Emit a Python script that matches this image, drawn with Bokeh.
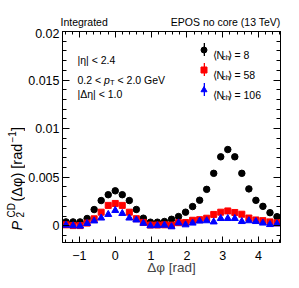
from bokeh.plotting import figure
from bokeh.layouts import column, row
from bokeh.models import (FixedTicker, Label, Legend, LegendItem, LinearAxis,
                          CustomJSTickFormatter, Range1d)
from bokeh.core.properties import value
from bokeh.embed import file_html
from bokeh.resources import INLINE
import numpy as np

# ---------------- data ----------------
dphi = [-1.374, -1.178, -0.982, -0.785, -0.589, -0.393, -0.196, 0.0, 0.196, 0.393,
        0.589, 0.785, 0.982, 1.178, 1.374, 1.571, 1.767, 1.963, 2.160, 2.356,
        2.553, 2.749, 2.945, 3.142, 3.338, 3.534, 3.731, 3.927, 4.123, 4.320, 4.516]

p2_n8 = [0.00040, 0.00040, 0.00040, 0.00075, 0.00167, 0.00260, 0.00320, 0.00360, 0.00320, 0.00260,
         0.00168, 0.00078, 0.00037, 0.00037, 0.00044, 0.00067, 0.00095, 0.00140, 0.00198, 0.00263,
         0.00375, 0.00540, 0.00710, 0.00785, 0.00710, 0.00540, 0.00380, 0.00262, 0.00200, 0.00135, 0.00094]

p2_n58 = [0.00010, 0.00002, 0.00002, 0.00028, 0.00072, 0.00140, 0.00210, 0.00230, 0.00210, 0.00140,
          0.00073, 0.00035, 0.00008, 0.00008, 0.00010, 0.00007, 0.00032, 0.00034, 0.00057, 0.00063,
          0.00078, 0.00117, 0.00140, 0.00153, 0.00137, 0.00119, 0.00080, 0.00060, 0.00053, 0.00040, 0.00031]

p2_n106 = [0.00007, 0.00000, -0.00003, 0.00024, 0.00050, 0.00080, 0.00117, 0.00158, 0.00127, 0.00080,
           0.00060, 0.00026, 0.00000, 0.00002, 0.00007, -0.00010, 0.00030, 0.00010, 0.00028, 0.00049,
           0.00052, 0.00040, 0.00075, 0.00075, 0.00075, 0.00044, 0.00052, 0.00044, 0.00028, 0.00013, 0.00020]

err_n8 = [0.00012] * 31
err_n58 = [0.00009] * 31
err_n106 = [0.00009] * 31

series_labels = ["8", "58", "106"]

x_tick_vals = [-1, 0, 1, 2, 3, 4]
x_tick_labels = ["\u22121", "0", "1", "2", "3", "4"]
y_tick_vals = [0, 0.005, 0.01, 0.015, 0.02]
y_tick_labels = ["0", "0.005", "0.01", "0.015", "0.02"]

FONT = "Liberation Sans"
W_LEFT = 25
H_HEAD = 28
B_TOP = 31 - H_HEAD
B_BOTTOM = 46


def helper_fig(w, h, top=0, bottom=0):
    f = figure(width=w, height=h, output_backend="svg", toolbar_location=None,
               x_range=Range1d(0, w), y_range=Range1d(0, h - top - bottom),
               min_border_left=0, min_border_right=0, min_border_top=top,
               min_border_bottom=bottom,
               x_axis_location=None, y_axis_location=None, title=None,
               background_fill_color="white", border_fill_color="white")
    f.outline_line_color = None
    f.xgrid.visible = False
    f.ygrid.visible = False
    return f


def lab(fig, x, y, text, size="10.5px", style="normal", align="left", angle=0.0):
    fig.add_layout(Label(x=x, y=y, x_units="screen", y_units="screen", text=text,
                         text_font=FONT, text_font_size=size, text_font_style=style,
                         text_align=align, text_baseline="alphabetic", angle=angle,
                         text_color="black"))


# ---------------- header ----------------
head = helper_fig(299, H_HEAD)
lab(head, 60, 7, "Integrated")
lab(head, 280, 7, "EPOS no core (13 TeV)", align="right")

# ---------------- y title (rotated) ----------------
side = helper_fig(W_LEFT, 288 - H_HEAD, top=B_TOP, bottom=B_BOTTOM)
A = np.pi / 2
lab(side, 16.5, 12, "P", size="14.5px", style="italic", angle=A)
lab(side, 11, 25, "CD", size="10px", angle=A)
lab(side, 19, 25, "2", size="10px", angle=A)
lab(side, 16.5, 41, "(\u0394\u03c6) [rad", size="14.5px", angle=A)
lab(side, 11, 100, "\u22121", size="10px", angle=A)
lab(side, 16.5, 111.5, "]", size="14.5px", angle=A)

# ---------------- main figure ----------------
p = figure(width=299 - W_LEFT, height=288 - H_HEAD, output_backend="svg", toolbar_location=None,
           x_range=Range1d(-1.473, 4.614), y_range=Range1d(-0.00172, 0.02), title=None,
           min_border_left=60 - W_LEFT, min_border_right=19, min_border_top=B_TOP,
           min_border_bottom=B_BOTTOM,
           background_fill_color="white", border_fill_color="white")
p.xgrid.visible = False
p.ygrid.visible = False
p.outline_line_color = "black"
p.outline_line_width = 1

x_minor = [round(v, 2) for v in np.arange(-1.4, 4.61, 0.2)]
y_minor = [round(v, 4) for v in np.arange(-0.001, 0.0201, 0.001)]
xt = FixedTicker(ticks=x_tick_vals, minor_ticks=x_minor)
yt = FixedTicker(ticks=y_tick_vals, minor_ticks=y_minor)


def style_axis(ax, major_in, minor_in):
    ax.axis_line_color = "black"
    ax.axis_line_width = 1
    ax.major_tick_in = major_in
    ax.major_tick_out = 0
    ax.minor_tick_in = minor_in
    ax.minor_tick_out = 0
    ax.major_tick_line_color = "black"
    ax.minor_tick_line_color = "black"
    ax.major_label_text_font = FONT
    ax.major_label_text_font_size = "12.5px"
    ax.major_label_text_color = "black"


xa = p.below[0]
xa.ticker = xt
style_axis(xa, 6, 3)
xa.major_label_overrides = dict(zip(x_tick_vals, x_tick_labels))
xa.major_label_standoff = 8
xa.axis_label = "\u0394\u03c6 [rad]"
xa.axis_label_text_font = FONT
xa.axis_label_text_font_size = "13.5px"
xa.axis_label_text_font_style = "normal"
xa.axis_label_standoff = -3

ya = p.left[0]
ya.ticker = yt
style_axis(ya, 7, 4)
ya.major_label_overrides = dict(zip(y_tick_vals, y_tick_labels))
ya.major_label_standoff = 3

empty = CustomJSTickFormatter(code="return ''")
top = LinearAxis(ticker=xt, formatter=empty)
style_axis(top, 6, 3)
top.major_label_text_font_size = "0px"
top.major_label_standoff = 0
p.add_layout(top, "above")
right = LinearAxis(ticker=yt, formatter=empty)
style_axis(right, 7, 4)
right.major_label_text_font_size = "0px"
right.major_label_standoff = 0
p.add_layout(right, "right")

# ---------------- data glyphs ----------------
specs = [
    (p2_n8, err_n8, "black", "circle", 6.5),
    (p2_n58, err_n58, "red", "square", 6),
    (p2_n106, err_n106, "blue", "triangle", 7),
]
err_renderers = []
mark_renderers = []
for ys, es, col, mk, sz in specs:
    lo = [y - e for y, e in zip(ys, es)]
    hi = [y + e for y, e in zip(ys, es)]
    er = p.vbar(x=dphi, bottom=lo, top=hi, width=0.033, fill_color=col, line_color=None)
    mr = p.scatter(x=dphi, y=ys, marker=mk, size=sz, fill_color=col, line_color=col)
    err_renderers.append(er)
    mark_renderers.append(mr)

# ---------------- legends (glyphs) ----------------
leg_err = Legend(items=[LegendItem(label=value(" "), renderers=[r]) for r in err_renderers],
                 location=(140.7, 144.6), glyph_width=2, glyph_height=16, label_height=16,
                 spacing=4, padding=0, margin=0, label_text_font_size="6px",
                 background_fill_alpha=0, border_line_color=None, label_standoff=0)
leg_mk = Legend(items=[LegendItem(label=value(" "), renderers=[r]) for r in mark_renderers],
                location=(134.2, 145.1), glyph_width=15, glyph_height=15, label_height=15,
                spacing=5, padding=0, margin=0, label_text_font_size="6px",
                background_fill_alpha=0, border_line_color=None, label_standoff=0)
p.add_layout(leg_err)
p.add_layout(leg_mk)

# legend texts  <N_ch> = n
for i, n in enumerate(series_labels):
    yb = 187.3 - 20 * i
    lab(p, 150, yb, "\u27e8N")
    lab(p, 159.5, yb - 2.5, "ch", size="7.5px")
    lab(p, 165, yb, "\u27e9 = " + n)

# cut texts
lab(p, 15, 182.5, "|\u03b7| < 2.4")
lab(p, 15, 162.5, "0.2 <")
lab(p, 41.6, 162.5, "p", style="italic")
lab(p, 47.5, 160, "T", size="7.5px")
lab(p, 55, 162.5, "< 2.0 GeV")
lab(p, 15, 148.5, "|\u0394\u03b7| < 1.0")

layout = column(head, row(side, p, spacing=0), spacing=0)
open("out.html", "w").write(file_html(layout, INLINE))
